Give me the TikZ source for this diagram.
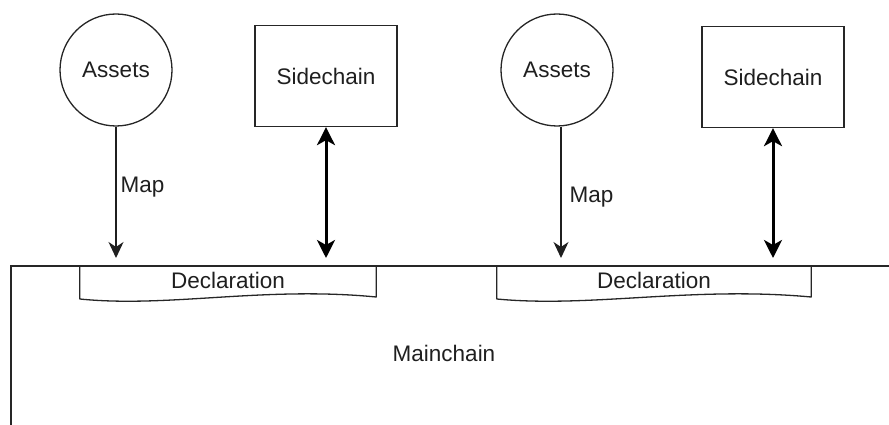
\documentclass[tikz,border=0pt]{standalone}
\usepackage{fontspec}
\setmainfont{Liberation Sans}
\usetikzlibrary{arrows.meta,calc}
\begin{document}
\begin{tikzpicture}[x=1pt,y=-1pt,
  every node/.style={font=\fontsize{22.5}{25}\selectfont, text=black!88},
  outline/.style={draw=black!85, line width=1.3pt},
  asset/.style={outline, circle, minimum size=112pt, inner sep=0pt},
  chainbox/.style={outline, rectangle, minimum width=142pt, minimum height=101pt, inner sep=0pt},
  decl/.style={rectangle, minimum height=33pt, inner sep=0pt},
  maparrow/.style={draw=black!88, line width=1.4pt, -{Stealth[length=16pt,width=15pt,inset=5pt]}, shorten >=8pt},
  linkarrow/.style={draw=black, line width=3pt, {Stealth[length=18pt,width=18pt,inset=5pt]}-{Stealth[length=18pt,width=18pt,inset=5pt]}, shorten >=8pt},
  wave/.style={outline, line join=round}
]
\useasboundingbox (0,0) rectangle (889,425);

% main chain outline, open to the right and below
\coordinate (mcR) at (892,266);
\coordinate (mcL) at (11,266);
\coordinate (mcB) at (11,428);
\draw[outline] (mcR) -- (mcL) -- (mcB);
\node (main) at (444,353) {Mainchain};

% declarations hanging from the main chain
\node[decl, minimum width=296pt, anchor=north] (d1) at (228,266) {};
\node (d1t) at (228,280) {Declaration};
\node[decl, minimum width=314pt, anchor=north] (d2) at (654,266) {};
\node (d2t) at (654,280) {Declaration};
\foreach \d in {d1,d2}{
  \draw[wave] (\d.north west) -- ($(\d.north west)+(0,33)$)
    .. controls ($(\d.north west)!0.3!(\d.north east)+(0,42)$) and ($(\d.north west)!0.62!(\d.north east)+(0,20)$) ..
    ($(\d.north east)+(0,31)$) -- (\d.north east);
}

% assets and sidechains
\node[asset] (a1) at (116,70) {Assets};
\node[chainbox] (s1) at (326,76) {Sidechain};
\node[asset] (a2) at (557,70) {Assets};
\node[chainbox] (s2) at (773,77) {Sidechain};

% mapping arrows
\draw[maparrow] (a1.south) -- (a1.south |- d1.north);
\node[anchor=west] (m1) at (117,187) {Map};
\draw[maparrow] ([xshift=4pt]a2.south) -- ([xshift=4pt]a2.south |- d2.north);
\node[anchor=west] (m2) at (566,197) {Map};

% two-way links between sidechains and main chain
\draw[linkarrow] (s1.south) -- (s1.south |- d1.north);
\draw[linkarrow] (s2.south) -- (s2.south |- d2.north);
\end{tikzpicture}
\end{document}
